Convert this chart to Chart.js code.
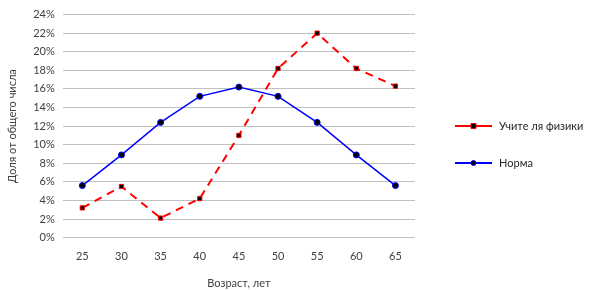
<!DOCTYPE html>
<html>
<head>
<meta charset="utf-8">
<script src="https://cdn.jsdelivr.net/npm/chart.js@4"></script>
<style>
    html, body { margin: 0; padding: 0; background: #fff; }
    #wrap { width: 590px; height: 290px; position: relative; }
</style>
</head>
<body>
<div id="wrap"><canvas id="myChart"></canvas></div>
<script>
const ages = ['25', '30', '35', '40', '45', '50', '55', '60', '65'];
const teachers = [3.2, 5.5, 2.1, 4.2, 11.0, 18.2, 22.0, 18.2, 16.3];
const norm = [5.6, 8.9, 12.4, 15.2, 16.2, 15.2, 12.4, 8.9, 5.6];
const seriesNames = ['Учите ля физики', 'Норма'];

const fontFamily = 'Lato, "Open Sans", sans-serif';

// legend drawn by hand: line sample with a marker in the middle
const sideLegend = {
    id: 'side_legend',
    afterDraw: (chart) => {
        const { ctx } = chart;
        const rows = [126, 163];
        ctx.save();
        chart.data.datasets.forEach((ds, i) => {
            const y = rows[i];
            ctx.strokeStyle = ds.borderColor;
            ctx.lineWidth = 2;
            ctx.setLineDash([]);
            ctx.beginPath();
            ctx.moveTo(455, y);
            ctx.lineTo(492, y);
            ctx.stroke();
            ctx.fillStyle = '#000';
            ctx.strokeStyle = ds.borderColor;
            ctx.lineWidth = 1;
            ctx.beginPath();
            if (ds.pointStyle === 'rect') {
                ctx.rect(471, y - 2.5, 5, 5);
            } else {
                ctx.arc(473.5, y, 2.5, 0, Math.PI * 2);
            }
            ctx.fill();
            ctx.stroke();
            ctx.fillStyle = '#262626';
            ctx.font = '11px ' + fontFamily;
            ctx.textBaseline = 'middle';
            ctx.fillText(ds.label, 499, y);
        });
        ctx.restore();
    }
};

const ctx = document.getElementById('myChart').getContext('2d');
const myChart = new Chart(ctx, {
    type: 'line',
    data: {
        labels: ages,
        datasets: [
            {
                label: seriesNames[0],
                data: teachers,
                borderColor: '#ff0000',
                borderWidth: 2,
                borderDash: [8, 6],
                pointStyle: 'rect',
                pointRadius: 3,
                pointBackgroundColor: '#000',
                pointBorderColor: '#ff0000',
                pointBorderWidth: 1,
                tension: 0
            },
            {
                label: seriesNames[1],
                data: norm,
                borderColor: '#0000ff',
                borderWidth: 1.5,
                pointStyle: 'circle',
                pointRadius: 3,
                pointBackgroundColor: '#000',
                pointBorderColor: '#0000ff',
                pointBorderWidth: 1,
                tension: 0
            }
        ]
    },
    options: {
        responsive: true,
        maintainAspectRatio: false,
        animation: false,
        layout: { padding: { top: 9, right: 175, left: 2, bottom: 0 } },
        plugins: {
            legend: { display: false },
            tooltip: { enabled: false }
        },
        scales: {
            x: {
                offset: true,
                grid: { display: false },
                border: { display: false },
                ticks: { color: '#404040', font: { family: fontFamily, size: 11 }, padding: 4 },
                title: {
                    display: true,
                    text: 'Возраст, лет',
                    color: '#404040',
                    font: { family: fontFamily, size: 11 },
                    padding: { top: 10, bottom: 0 }
                }
            },
            y: {
                min: 0,
                max: 24,
                ticks: {
                    stepSize: 2,
                    color: '#404040',
                    font: { family: fontFamily, size: 11 },
                    padding: 8,
                    callback: (v) => v + '%'
                },
                grid: { color: '#c0c0c0', drawTicks: false },
                border: { display: false },
                title: {
                    display: true,
                    text: 'Доля от общего числа',
                    color: '#404040',
                    font: { family: fontFamily, size: 11 },
                    padding: { bottom: 6 }
                }
            }
        }
    },
    plugins: [sideLegend]
});
</script>
</body>
</html>
